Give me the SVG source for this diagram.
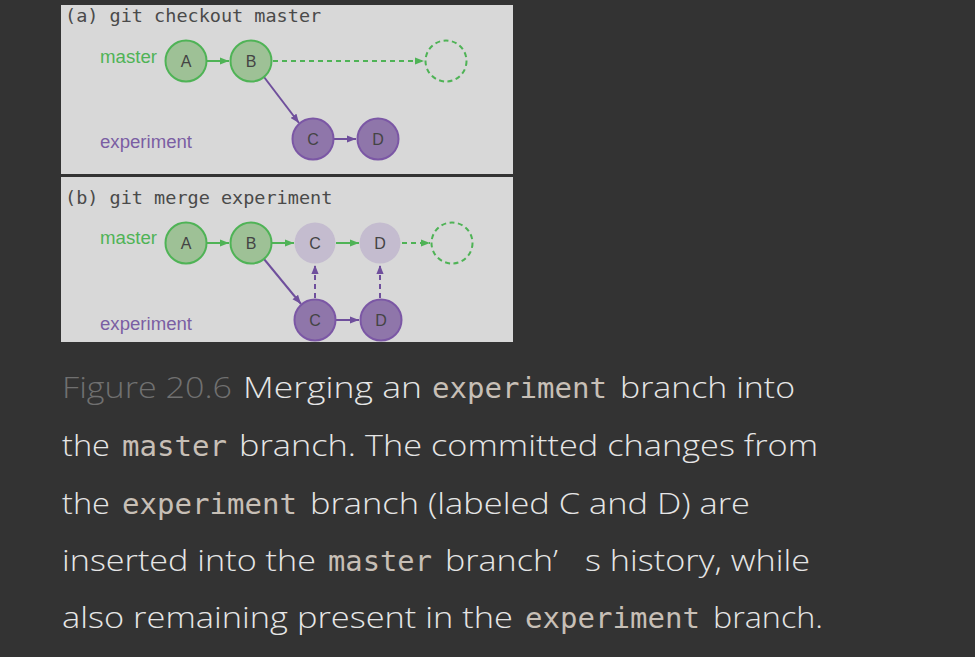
<svg xmlns="http://www.w3.org/2000/svg" width="975" height="657" viewBox="0 0 975 657">
<defs>
<style>
.panel{fill:#d8d8d8}
.ttl{font-family:"DejaVu Sans Mono","Liberation Mono",monospace;font-size:18.5px;fill:#4a4a4a}
.lbl{font-family:"Liberation Sans",Arial,sans-serif;font-size:17.5px}
.lg{fill:#4fb356}
.lp{fill:#7b5ea3}
.nt{font-family:"Liberation Sans",Arial,sans-serif;font-size:16px;fill:#444;text-anchor:middle}
.gn{fill:#9ec196;stroke:#4fb356;stroke-width:2}
.pn{fill:#8f76aa;stroke:#7b57a5;stroke-width:2}
.ghost{fill:#c4bccf}
.empty{fill:none;stroke:#4fb356;stroke-width:2;stroke-dasharray:5 3.5}
.ge{stroke:#4fb356;stroke-width:2;fill:none}
.pe{stroke:#6f4f9c;stroke-width:2;fill:none}
.dash{stroke-dasharray:5 4}
.body{font-family:"Open Sans","Noto Sans","DejaVu Sans",sans-serif;font-size:30px;font-weight:350;fill:#e6e6e6}
.fig{fill:#707070}
.code{font-family:"DejaVu Sans Mono","Liberation Mono",monospace;font-size:28px;fill:#c7bfb6}
</style>
<marker id="ag" viewBox="0 0 10 8" refX="10" refY="4" markerWidth="9" markerHeight="7.5" markerUnits="userSpaceOnUse" orient="auto"><path d="M0,0 L10,4 L0,8 Z" fill="#4fb356"/></marker>
<marker id="ap" viewBox="0 0 10 8" refX="10" refY="4" markerWidth="9" markerHeight="7.5" markerUnits="userSpaceOnUse" orient="auto"><path d="M0,0 L10,4 L0,8 Z" fill="#6f4f9c"/></marker>
</defs>
<rect width="975" height="657" fill="#333333"/>

<g id="panel-a">
<rect class="panel" x="61" y="5" width="452" height="169"/>
<text class="ttl" x="65" y="22">(a) git checkout master</text>
<text class="lbl lg" x="100" y="63" textLength="57" lengthAdjust="spacingAndGlyphs">master</text>
<text class="lbl lp" x="100" y="148" textLength="92" lengthAdjust="spacingAndGlyphs">experiment</text>
</g>
<g id="panel-b">
<rect class="panel" x="61" y="177" width="452" height="165"/>
<text class="ttl" x="65" y="204">(b) git merge experiment</text>
<text class="lbl lg" x="100" y="244" textLength="57" lengthAdjust="spacingAndGlyphs">master</text>
<text class="lbl lp" x="100" y="330" textLength="92" lengthAdjust="spacingAndGlyphs">experiment</text>
</g>

<g id="connectors">
<line class="ge" x1="207" y1="61" x2="229" y2="61" marker-end="url(#ag)"/>
<line class="ge dash" x1="273" y1="61" x2="424" y2="61" marker-end="url(#ag)"/>
<line class="pe" x1="264" y1="77" x2="299" y2="123" marker-end="url(#ap)"/>
<line class="pe" x1="334" y1="139" x2="356" y2="139" marker-end="url(#ap)"/>

<line class="ge" x1="207" y1="243" x2="229" y2="243" marker-end="url(#ag)"/>
<line class="ge" x1="272" y1="243" x2="294" y2="243" marker-end="url(#ag)"/>
<line class="ge" x1="336" y1="243" x2="359" y2="243" marker-end="url(#ag)"/>
<line class="ge dash" x1="402" y1="243" x2="430" y2="243" marker-end="url(#ag)"/>
<line class="pe" x1="264" y1="259" x2="301" y2="304" marker-end="url(#ap)"/>
<line class="pe dash" x1="315" y1="298" x2="315" y2="265" marker-end="url(#ap)"/>
<line class="pe dash" x1="380" y1="298" x2="380" y2="265" marker-end="url(#ap)"/>
<line class="pe" x1="336" y1="320" x2="359" y2="320" marker-end="url(#ap)"/>
</g>

<g id="a-A"><circle class="gn" cx="186" cy="61" r="20.5"/><text class="nt" x="186" y="67">A</text></g>
<g id="a-B"><circle class="gn" cx="251" cy="61" r="20.5"/><text class="nt" x="251" y="67">B</text></g>
<g id="a-next"><circle class="empty" cx="446" cy="61" r="20.5"/></g>
<g id="a-C"><circle class="pn" cx="313" cy="139" r="20.5"/><text class="nt" x="313" y="145">C</text></g>
<g id="a-D"><circle class="pn" cx="378" cy="139" r="20.5"/><text class="nt" x="378" y="145">D</text></g>

<g id="b-A"><circle class="gn" cx="186" cy="243" r="20.5"/><text class="nt" x="186" y="249">A</text></g>
<g id="b-B"><circle class="gn" cx="251" cy="243" r="20.5"/><text class="nt" x="251" y="249">B</text></g>
<g id="b-C-merged"><circle class="ghost" cx="315" cy="243" r="20.5"/><text class="nt" x="315" y="249">C</text></g>
<g id="b-D-merged"><circle class="ghost" cx="380" cy="243" r="20.5"/><text class="nt" x="380" y="249">D</text></g>
<g id="b-next"><circle class="empty" cx="452" cy="243" r="20.5"/></g>
<g id="b-C"><circle class="pn" cx="315" cy="320" r="20.5"/><text class="nt" x="315" y="326">C</text></g>
<g id="b-D"><circle class="pn" cx="381" cy="320" r="20.5"/><text class="nt" x="381" y="326">D</text></g>

<g id="caption">
<text class="body fig" x="62" y="398" textLength="170" lengthAdjust="spacingAndGlyphs">Figure 20.6</text>
<text class="body" x="243" y="398" textLength="179" lengthAdjust="spacingAndGlyphs">Merging an</text>
<text class="code" x="432" y="398" textLength="175" lengthAdjust="spacingAndGlyphs">experiment</text>
<text class="body" x="620" y="398" textLength="175" lengthAdjust="spacingAndGlyphs">branch into</text>

<text class="body" x="62" y="456" textLength="48" lengthAdjust="spacingAndGlyphs">the</text>
<text class="code" x="122" y="456" textLength="105" lengthAdjust="spacingAndGlyphs">master</text>
<text class="body" x="239" y="456" textLength="579" lengthAdjust="spacingAndGlyphs">branch. The committed changes from</text>

<text class="body" x="62" y="514" textLength="48" lengthAdjust="spacingAndGlyphs">the</text>
<text class="code" x="122" y="514" textLength="175" lengthAdjust="spacingAndGlyphs">experiment</text>
<text class="body" x="310" y="514" textLength="440" lengthAdjust="spacingAndGlyphs">branch (labeled C and D) are</text>

<text class="body" x="62" y="571" textLength="254" lengthAdjust="spacingAndGlyphs">inserted into the</text>
<text class="code" x="328" y="571" textLength="104" lengthAdjust="spacingAndGlyphs">master</text>
<text class="body" x="445" y="571" textLength="113" lengthAdjust="spacingAndGlyphs">branch’</text>
<text class="body" x="585" y="571" textLength="225" lengthAdjust="spacingAndGlyphs">s history, while</text>

<text class="body" x="62" y="628" textLength="451" lengthAdjust="spacingAndGlyphs">also remaining present in the</text>
<text class="code" x="525" y="628" textLength="175" lengthAdjust="spacingAndGlyphs">experiment</text>
<text class="body" x="713" y="628" textLength="110" lengthAdjust="spacingAndGlyphs">branch.</text>
</g>
</svg>
